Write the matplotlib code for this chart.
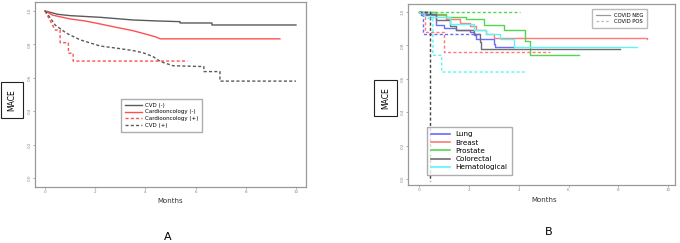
import matplotlib
matplotlib.use("Agg")
import matplotlib.pyplot as plt
from matplotlib.lines import Line2D

# ---- panel A: MACE-free survival by group (months) ----
cvd_neg_t = [0, 0.5, 1.0, 2.2, 3.5, 4.5, 5.38, 5.38, 6.65, 6.65, 10.0]
cvd_neg_s = [1.0, 0.98, 0.972, 0.962, 0.946, 0.94, 0.936, 0.928, 0.928, 0.916, 0.916]
card_neg_t = [0, 0.3, 1.0, 1.6, 2.2, 2.9, 3.5, 4.05, 4.4, 4.6, 9.36]
card_neg_s = [1.0, 0.975, 0.952, 0.94, 0.922, 0.9, 0.882, 0.86, 0.845, 0.833, 0.833]
card_pos_t = [0, 0.4, 0.6, 0.6, 0.93, 0.93, 1.12, 1.12, 5.68]
card_pos_s = [1.0, 0.886, 0.886, 0.81, 0.81, 0.747, 0.747, 0.70, 0.70]
cvd_pos_t = [0, 0.2, 0.4, 0.86, 1.4, 2.2, 2.86, 3.5, 3.9, 4.3, 4.6, 5.1, 6.33, 6.33, 6.97, 6.97, 10.0]
cvd_pos_s = [1.0, 0.96, 0.916, 0.866, 0.827, 0.79, 0.777, 0.763, 0.75, 0.727, 0.697, 0.672, 0.667, 0.637, 0.637, 0.58, 0.58]

# ---- panel B: by cancer type, COVID NEG (solid) / POS (dashed) ----
lung_neg_t = [0, 0.1, 0.7, 1.0, 1.5, 2.05, 2.2, 2.3, 3.0, 3.05, 3.8]
lung_neg_s = [1.0, 0.98, 0.92, 0.904, 0.894, 0.88, 0.86, 0.835, 0.81, 0.787, 0.787]
breast_neg_t = [0, 0.5, 0.7, 1.1, 1.65, 2.05, 2.3, 2.7, 3.0, 9.15]
breast_neg_s = [1.0, 0.99, 0.98, 0.96, 0.934, 0.914, 0.89, 0.87, 0.845, 0.84]
prost_neg_t = [0, 0.5, 0.7, 1.1, 1.9, 2.6, 3.4, 4.26, 4.46, 4.46, 6.4]
prost_neg_s = [1.0, 1.0, 0.99, 0.97, 0.96, 0.92, 0.89, 0.827, 0.8, 0.74, 0.74]
colo_neg_t = [0, 0.3, 0.7, 1.25, 1.5, 2.2, 2.45, 2.5, 2.5, 8.08]
colo_neg_s = [1.0, 0.99, 0.95, 0.914, 0.894, 0.87, 0.82, 0.80, 0.775, 0.775]
hema_neg_t = [0, 0.45, 1.25, 2.2, 2.7, 3.25, 3.8, 3.8, 8.73]
hema_neg_s = [1.0, 0.97, 0.93, 0.89, 0.87, 0.84, 0.82, 0.787, 0.787]

lung_pos_t = [0, 0.17, 0.17, 2.5]
lung_pos_s = [1.0, 1.0, 0.87, 0.87]
breast_pos_t = [0, 0.25, 0.25, 1.0, 1.0, 5.27]
breast_pos_s = [1.0, 1.0, 0.88, 0.88, 0.76, 0.76]
prost_pos_t = [0, 4.06]
prost_pos_s = [1.0, 1.0]
colo_pos_t = [0, 0.45, 0.45]
colo_pos_s = [1.0, 1.0, -0.01]
hema_pos_t = [0, 0.4, 0.56, 0.56, 0.91, 0.91, 4.33]
hema_pos_s = [1.0, 0.96, 0.96, 0.74, 0.74, 0.64, 0.64]

x_ticks = [0, 2, 4, 6, 8, 10]
y_ticks = [0.0, 0.2, 0.4, 0.6, 0.8, 1.0]

GRAY, RED = "#5a5a5a", "#ff5050"
DASH = (0, (2.2, 1.6))
C_LUNG, C_BREAST, C_PROST, C_COLO, C_HEMA = "#6b6bff", "#ff7a7a", "#4fd84f", "#6e6e6e", "#5cf6f6"

fig = plt.figure(figsize=(6.8, 2.43), dpi=100)
axA = fig.add_axes([0.0515, 0.2305, 0.3985, 0.7615])
axB = fig.add_axes([0.600, 0.239, 0.393, 0.745])

def style(ax, xlim, ylim):
    ax.set_xlim(*xlim); ax.set_ylim(*ylim)
    ax.set_xticks(x_ticks); ax.set_yticks(y_ticks)
    ax.set_xticklabels([str(v) for v in x_ticks], fontsize=3, color="#555")
    ax.set_yticklabels([f"{v:.1f}" for v in y_ticks], fontsize=3, color="#555", rotation=90, va="center")
    ax.tick_params(length=1.5, width=0.5, pad=1, colors="#888")
    for s in ax.spines.values():
        s.set_color("#999"); s.set_linewidth(0.9)

lw = 1.0
axA.plot(cvd_neg_t, cvd_neg_s, color=GRAY, lw=lw, label="CVD (-)")
axA.plot(card_neg_t, card_neg_s, color=RED, lw=lw, label="Cardiooncology (-)")
axA.plot(card_pos_t, card_pos_s, color=RED, lw=lw, ls=DASH, label="Cardiooncology (+)")
axA.plot(cvd_pos_t, cvd_pos_s, color=GRAY, lw=lw, ls=DASH, label="CVD (+)")
style(axA, (-0.4, 10.4), (-0.054, 1.054))
axA.legend(loc="upper left", bbox_to_anchor=(0.178, 0.593), bbox_transform=fig.transFigure,
           borderaxespad=0, fontsize=4.0, frameon=True, fancybox=False, edgecolor="#999",
           borderpad=0.7, handlelength=3.0, handletextpad=0.6, labelspacing=0.3)

for t, s, c in [(lung_neg_t, lung_neg_s, C_LUNG), (breast_neg_t, breast_neg_s, C_BREAST),
                (prost_neg_t, prost_neg_s, C_PROST), (colo_neg_t, colo_neg_s, C_COLO),
                (hema_neg_t, hema_neg_s, C_HEMA)]:
    axB.plot(t, s, color=c, lw=lw, drawstyle="steps-post")
for t, s, c in [(lung_pos_t, lung_pos_s, C_LUNG), (breast_pos_t, breast_pos_s, C_BREAST),
                (prost_pos_t, prost_pos_s, C_PROST), (colo_pos_t, colo_pos_s, "#444"),
                (hema_pos_t, hema_pos_s, C_HEMA)]:
    axB.plot(t, s, color=c, lw=lw, ls=DASH, clip_on=False)
style(axB, (-0.44, 10.28), (-0.036, 1.048))

canc = [Line2D([0], [0], color=c, lw=1.2, label=l) for c, l in
        [(C_LUNG, "Lung"), (C_BREAST, "Breast"), (C_PROST, "Prostate"),
         (C_COLO, "Colorectal"), (C_HEMA, "Hematological")]]
lg1 = axB.legend(handles=canc, loc="upper left", bbox_to_anchor=(0.628, 0.477),
                 bbox_transform=fig.transFigure, borderaxespad=0, fontsize=5.2, frameon=True,
                 fancybox=False, edgecolor="#999", borderpad=0.6, handlelength=2.6,
                 handletextpad=0.7, labelspacing=0.3)
axB.add_artist(lg1)
covid = [Line2D([0], [0], color="#999", lw=0.9, label="COVID NEG"),
         Line2D([0], [0], color="#bbb", lw=0.9, ls=DASH, label="COVID POS")]
axB.legend(handles=covid, loc="upper left", bbox_to_anchor=(0.871, 0.963),
           bbox_transform=fig.transFigure, borderaxespad=0, fontsize=3.8, frameon=True,
           fancybox=False, edgecolor="#aaa", borderpad=0.7, handlelength=2.6, labelspacing=0.3)

box = dict(boxstyle="square,pad=0.9", facecolor="white", edgecolor="#222", linewidth=0.8)
fig.text(0.0176, 0.588, "MACE", rotation=90, ha="center", va="center", fontsize=5.5, bbox=box)
fig.text(0.567, 0.597, "MACE", rotation=90, ha="center", va="center", fontsize=5.5, bbox=box)
fig.text(0.25, 0.173, "Months", ha="center", va="center", fontsize=5, color="#333")
fig.text(0.80, 0.177, "Months", ha="center", va="center", fontsize=5, color="#333")
fig.text(0.247, 0.025, "A", ha="center", va="center", fontsize=8)
fig.text(0.807, 0.045, "B", ha="center", va="center", fontsize=8)

fig.savefig("out.png", dpi=100)
